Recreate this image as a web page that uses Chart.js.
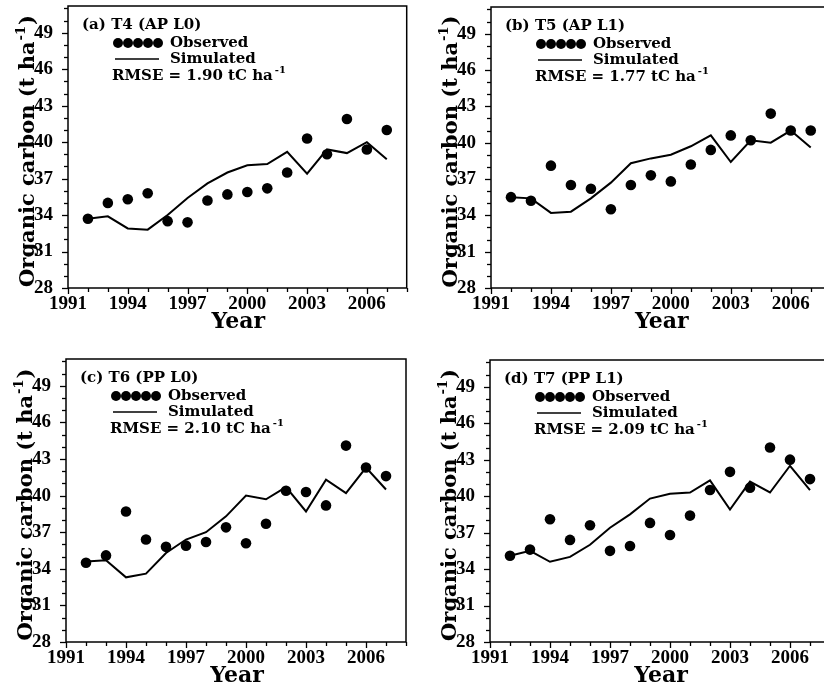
<!DOCTYPE html>
<html><head><meta charset="utf-8">
<script src="https://cdn.jsdelivr.net/npm/chart.js@4/dist/chart.umd.min.js"></script>
<style>
html,body{margin:0;padding:0;background:#fff;overflow:hidden;width:824px;height:686px;position:relative}
.p{position:absolute}
canvas{display:block}
</style></head><body>
<div class="p" id="wa" style="left:0;top:0"><canvas id="ca"></canvas></div>
<div class="p" id="wb" style="left:412px;top:0"><canvas id="cb"></canvas></div>
<div class="p" id="wc" style="left:0;top:343px"><canvas id="cc"></canvas></div>
<div class="p" id="wd" style="left:412px;top:343px"><canvas id="cd"></canvas></div>
<script>
// ---- data ----
const years = [1992,1993,1994,1995,1996,1997,1998,1999,2000,2001,2002,2003,2004,2005,2006,2007];
const obsA = [33.7,35.0,35.3,35.8,33.5,33.4,35.2,35.7,35.9,36.2,37.5,40.3,39.0,41.9,39.4,41.0];
const simA = [33.7,33.9,32.9,32.8,34.0,35.4,36.6,37.5,38.1,38.2,39.2,37.4,39.4,39.1,40.0,38.6];
const obsB = [35.5,35.2,38.1,36.5,36.2,34.5,36.5,37.3,36.8,38.2,39.4,40.6,40.2,42.4,41.0,41.0];
const simB = [35.5,35.4,34.2,34.3,35.4,36.7,38.3,38.7,39.0,39.7,40.6,38.4,40.2,40.0,41.0,39.6];
const obsC = [34.5,35.1,38.7,36.4,35.8,35.9,36.2,37.4,36.1,37.7,40.4,40.3,39.2,44.1,42.3,41.6];
const simC = [34.6,34.7,33.3,33.6,35.3,36.4,37.0,38.3,40.0,39.7,40.7,38.7,41.3,40.2,42.3,40.5];
const obsD = [35.1,35.6,38.1,36.4,37.6,35.5,35.9,37.8,36.8,38.4,40.5,42.0,40.7,44.0,43.0,41.4];
const simD = [35.1,35.5,34.6,35.0,36.0,37.4,38.5,39.8,40.2,40.3,41.3,38.9,41.2,40.3,42.5,40.5];
const yTickValues = [28,31,34,37,40,43,46,49];
const xTickValues = [1991,1994,1997,2000,2003,2006];
const panelTitles = ['(a) T4 (AP L0)','(b) T5 (AP L1)','(c) T6 (PP L0)','(d) T7 (PP L1)'];
const rmseValues = ['1.90','1.77','2.10','2.09'];
const xTitle = 'Year';
const yTitle = 'Organic carbon (t ha';

// ---- layout (canvas size + chart area box) ----
const panels = [
  {id:'ca', wrap:'wa', W:412, H:343, L:68, T:6,  R:407, B:288, obs:obsA, sim:simA},
  {id:'cb', wrap:'wb', W:424, H:343, L:79, T:7,  R:419, B:288, obs:obsB, sim:simB},
  {id:'cc', wrap:'wc', W:412, H:343, L:66, T:16, R:406, B:299, obs:obsC, sim:simC},
  {id:'cd', wrap:'wd', W:424, H:343, L:78, T:17, R:418, B:299, obs:obsD, sim:simD}
];

const SERIF = '"DejaVu Serif", serif';

function makeDeco(idx){
  return {
    id:'deco'+idx,
    afterDraw(chart){
      const {ctx, chartArea:a, scales:{x,y}} = chart;
      ctx.save();
      ctx.strokeStyle='#000'; ctx.fillStyle='#000';
      ctx.lineWidth=1.5;
      ctx.strokeRect(a.left, a.top, a.right-a.left, a.bottom-a.top);
      ctx.lineWidth=1.3;
      for(let v=Math.ceil(y.min); v<=y.max; v++){
        const py=Math.round(y.getPixelForValue(v))+0.5;
        const len=yTickValues.includes(v)?6:4;
        ctx.beginPath(); ctx.moveTo(a.left-len,py); ctx.lineTo(a.left,py); ctx.stroke();
      }
      for(let v=Math.ceil(x.min); v<=x.max; v++){
        const px=Math.round(x.getPixelForValue(v))+0.5;
        const len=xTickValues.includes(v)?6:4;
        ctx.beginPath(); ctx.moveTo(px,a.bottom); ctx.lineTo(px,a.bottom+len); ctx.stroke();
      }
      // legend block
      ctx.textBaseline='middle'; ctx.textAlign='left';
      ctx.font='bold 15px '+SERIF;
      ctx.fillText(panelTitles[idx], a.left+14, a.top+19);
      for(let i=0;i<5;i++){
        ctx.beginPath(); ctx.arc(a.left+50+i*10, a.top+37, 5, 0, Math.PI*2); ctx.fill();
      }
      ctx.fillText('Observed', a.left+102, a.top+37);
      ctx.lineWidth=1.5;
      ctx.beginPath(); ctx.moveTo(a.left+47,a.top+53); ctx.lineTo(a.left+91,a.top+53); ctx.stroke();
      ctx.fillText('Simulated', a.left+102, a.top+53);
      const rm='RMSE = '+rmseValues[idx]+' tC ha';
      ctx.fillText(rm, a.left+44, a.top+70);
      const w=ctx.measureText(rm).width;
      ctx.font='bold 10px '+SERIF;
      ctx.fillText('-1', a.left+44+w+2, a.top+64);
      // x title
      ctx.font='bold 22px '+SERIF; ctx.textAlign='center';
      ctx.fillText(xTitle, (a.left+a.right)/2+1, a.bottom+34);
      // y title (rotated)
      ctx.save();
      ctx.translate(a.left-34, (a.top+a.bottom)/2+4);
      ctx.rotate(-Math.PI/2);
      ctx.textAlign='left'; ctx.textBaseline='alphabetic';
      ctx.font='bold 21px '+SERIF;
      const w1=ctx.measureText(yTitle).width;
      ctx.font='bold 13px '+SERIF;
      const w2=ctx.measureText('-1').width;
      ctx.font='bold 21px '+SERIF;
      const w3=ctx.measureText(')').width;
      const tot=w1+w2+w3+2;
      let sx=-tot/2;
      ctx.fillText(yTitle, sx, 0); sx+=w1+1;
      ctx.font='bold 13px '+SERIF;
      ctx.fillText('-1', sx, -9); sx+=w2+1;
      ctx.font='bold 21px '+SERIF;
      ctx.fillText(')', sx, 0);
      ctx.restore();
      ctx.restore();
    }
  };
}

panels.forEach((p,idx)=>{
  const wrap=document.getElementById(p.wrap);
  wrap.style.width=p.W+'px'; wrap.style.height=p.H+'px';
  const cv=document.getElementById(p.id);
  cv.width=p.W; cv.height=p.H; cv.style.width=p.W+'px'; cv.style.height=p.H+'px';
  new Chart(cv,{
    type:'line',
    data:{datasets:[
      {label:'Observed', data:years.map((yr,i)=>({x:yr,y:p.obs[i]})), showLine:false,
       pointRadius:5.3, pointHoverRadius:5.3, pointBackgroundColor:'#000', pointBorderColor:'#000', pointBorderWidth:0},
      {label:'Simulated', data:years.map((yr,i)=>({x:yr,y:p.sim[i]})), borderColor:'#000', borderWidth:2,
       pointRadius:0, tension:0, fill:false}
    ]},
    options:{
      responsive:false, animation:false, devicePixelRatio:1,
      layout:{padding:{left:0, top:p.T, right:p.W-p.R, bottom:0}},
      plugins:{legend:{display:false}, tooltip:{enabled:false}},
      scales:{
        x:{type:'linear', min:1991, max:2008,
           afterFit:s=>{s.height=p.H-p.B; s.paddingLeft=0; s.paddingRight=0;},
           afterBuildTicks:s=>{s.ticks=xTickValues.map(v=>({value:v}));},
           grid:{display:false}, border:{display:false},
           ticks:{autoSkip:false, maxRotation:0, padding:-3, color:'#000',
                  font:{family:'"Liberation Serif"', weight:'bold', size:19},
                  callback:v=>String(v)}},
        y:{type:'linear', min:28, max:51.2,
           afterFit:s=>{s.width=p.L; s.paddingTop=0; s.paddingBottom=0;},
           afterBuildTicks:s=>{s.ticks=yTickValues.map(v=>({value:v}));},
           grid:{display:false}, border:{display:false},
           ticks:{autoSkip:false, padding:7, color:'#000',
                  font:{family:'"Liberation Serif"', weight:'bold', size:19},
                  callback:v=>String(v)}}
      }
    },
    plugins:[makeDeco(idx)]
  });
});
</script>
</body></html>
